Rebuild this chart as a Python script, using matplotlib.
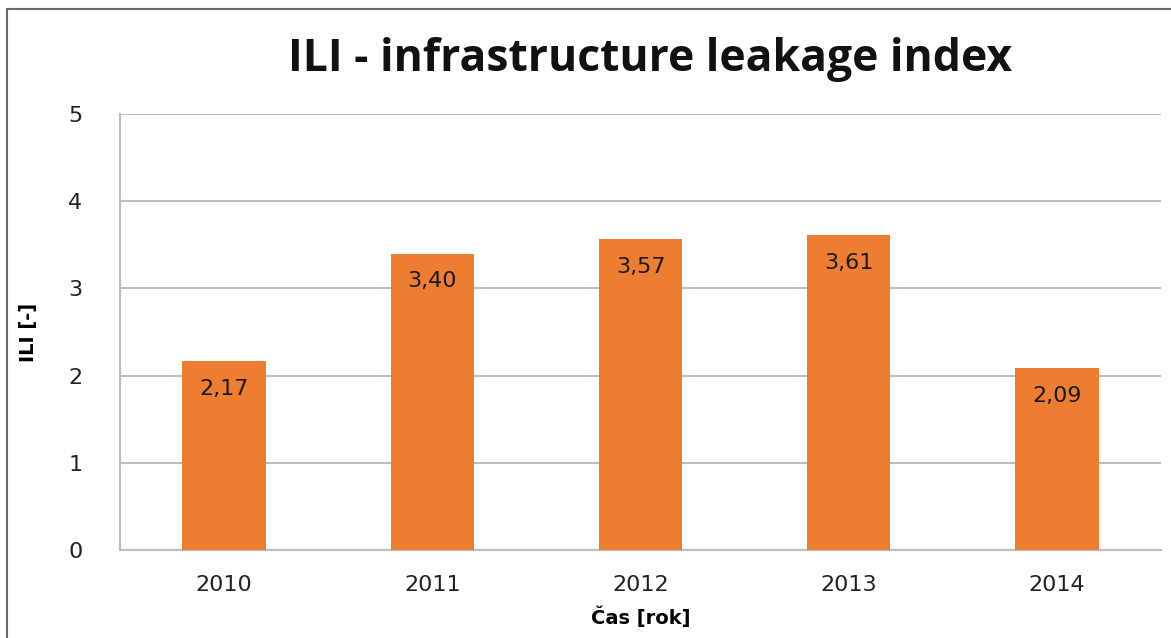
import matplotlib
matplotlib.use("Agg")
import matplotlib.pyplot as plt
from matplotlib.patches import Rectangle

years = ["2010", "2011", "2012", "2013", "2014"]
ili = [2.17, 3.40, 3.57, 3.61, 2.09]
labels = ["2,17", "3,40", "3,57", "3,61", "2,09"]
yticks = [0, 1, 2, 3, 4, 5]

plt.rcParams['font.family'] = ['DejaVu Sans']

fig = plt.figure(figsize=(11.71, 6.38), dpi=100)
ax = fig.add_axes([120/1171, 88/638, 1041/1171, 436/638])

x = list(range(len(years)))
ax.bar(x, ili, width=0.4, color="#ED7D31", zorder=3)
for xi, v, lab in zip(x, ili, labels):
    ax.text(xi, v - 0.32, lab, ha="center", va="center", fontsize=16, color="#1a1a1a", zorder=4)

ax.set_xlim(-0.5, 4.5)
ax.set_ylim(0, 5)
ax.set_yticks(yticks)
ax.set_xticks(x)
ax.set_xticklabels(years)
ax.tick_params(axis="both", length=0, labelsize=16, colors="#222222")
ax.tick_params(axis="y", pad=27)
ax.tick_params(axis="x", pad=18)
ax.yaxis.grid(True, color="#BDBDBD", lw=1.5, zorder=0)
ax.set_axisbelow(True)
for s in ["top", "right"]:
    ax.spines[s].set_visible(False)
ax.spines["left"].set_color("#BDBDBD")
ax.spines["left"].set_linewidth(1.5)
ax.spines["bottom"].set_color("#BDBDBD")
ax.spines["bottom"].set_linewidth(1.5)

ax.set_ylabel("ILI [-]", fontsize=14, fontweight="bold", labelpad=22)
ax.set_xlabel("Čas [rok]", fontsize=14, fontweight="bold", labelpad=8)

fig.text(650/1171, 1 - 60/638, "ILI - infrastructure leakage index", ha="center", va="center",
         fontsize=32, fontweight="bold", color="#111111", family=["Open Sans", "DejaVu Sans"])

fig.patches.append(Rectangle((7/1171, -0.1), 1.2, 1.1 - 9/638, transform=fig.transFigure,
                             fill=False, edgecolor="#6b6b6b", lw=1.5, zorder=0))

fig.savefig("out.png", dpi=100)
